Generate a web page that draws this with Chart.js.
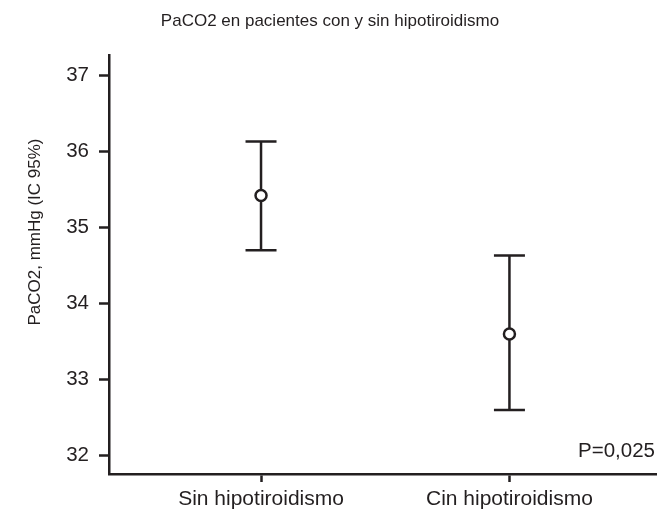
<!DOCTYPE html>
<html>
<head>
<meta charset="utf-8">
<script src="https://cdn.jsdelivr.net/npm/chart.js@4"></script>
<style>
  html, body { margin: 0; padding: 0; background: #fff; }
  #wrap { width: 664px; height: 513px; }
</style>
</head>
<body>
<div id="wrap"><canvas id="chart"></canvas></div>
<script>
const categories = ["Sin hipotiroidismo", "Cin hipotiroidismo"];
const xPos = [1, 2];
const means = [35.42, 33.60];
const lower = [34.70, 32.60];
const upper = [36.13, 34.63];
const yTicks = [32, 33, 34, 35, 36, 37];
const pLabel = "P=0,025";
const yTitle = "PaCO2, mmHg (IC 95%)";

const ink = "#231f20";
const font = "'Liberation Sans', Arial, Helvetica, sans-serif";

// whiskers go under the points so the hollow markers sit on top
const errorBars = {
    id: "errorBars",
    beforeDatasetsDraw(chart) {
        const { ctx, scales: { x, y } } = chart;
        ctx.save();
        ctx.strokeStyle = ink;
        ctx.lineWidth = 2.5;
        xPos.forEach((v, i) => {
            const px = x.getPixelForValue(v);
            const top = y.getPixelForValue(upper[i]);
            const bot = y.getPixelForValue(lower[i]);
            const half = 15.5;
            ctx.beginPath();
            ctx.moveTo(px, top); ctx.lineTo(px, bot);
            ctx.moveTo(px - half, top); ctx.lineTo(px + half, top);
            ctx.moveTo(px - half, bot); ctx.lineTo(px + half, bot);
            ctx.stroke();
        });
        ctx.restore();
    },
    afterDraw(chart) {
        const { ctx, chartArea } = chart;
        ctx.save();
        ctx.fillStyle = ink;

        // p-value, bottom right of the plot
        ctx.font = "20.5px " + font;
        ctx.textAlign = "right";
        ctx.textBaseline = "middle";
        ctx.fillText(pLabel, chartArea.right - 1, chartArea.bottom - 23);

        // y title, a bit above the middle of the axis
        ctx.translate(35, 232);
        ctx.rotate(-Math.PI / 2);
        ctx.textAlign = "center";
        ctx.font = "17px " + font;
        ctx.fillText(yTitle, 0, 0);
        ctx.restore();
    }
};

new Chart(document.getElementById("chart"), {
    type: "scatter",
    data: {
        datasets: [{
            data: xPos.map((v, i) => ({ x: v, y: means[i] })),
            pointRadius: 5.5,
            pointHoverRadius: 5.5,
            pointBackgroundColor: "#fff",
            pointBorderColor: ink,
            pointBorderWidth: 2.5
        }]
    },
    plugins: [errorBars],
    options: {
        responsive: true,
        maintainAspectRatio: false,
        animation: false,
        events: [],
        layout: { padding: { left: 0, right: 4, top: 0, bottom: 0 } },
        plugins: {
            legend: { display: false },
            tooltip: { enabled: false },
            title: {
                display: true,
                text: "PaCO2 en pacientes con y sin hipotiroidismo",
                color: ink,
                font: { family: font, size: 17, weight: "normal" },
                padding: { top: 11, bottom: 24 }
            }
        },
        scales: {
            x: {
                type: "linear",
                min: 0.388,
                max: 2.59,
                afterBuildTicks: s => { s.ticks = xPos.map(v => ({ value: v })); },
                afterFit: s => { s.height = 39; },
                border: { display: true, color: ink, width: 2.5 },
                grid: { drawOnChartArea: false, drawTicks: true, tickLength: 8, tickColor: ink, tickWidth: 2.5 },
                ticks: {
                    color: ink,
                    padding: 5,
                    font: { family: font, size: 21 },
                    callback: v => categories[xPos.indexOf(v)] ?? ""
                }
            },
            y: {
                min: 31.76,
                max: 37.26,
                afterBuildTicks: s => { s.ticks = yTicks.map(v => ({ value: v })); },
                afterFit: s => { s.width = 109; },
                border: { display: true, color: ink, width: 2.5 },
                grid: { drawOnChartArea: false, drawTicks: true, tickLength: 10, tickColor: ink, tickWidth: 2.5 },
                ticks: {
                    color: ink,
                    padding: 10,
                    font: { family: font, size: 20.5 }
                }
            }
        }
    }
});
</script>
</body>
</html>
